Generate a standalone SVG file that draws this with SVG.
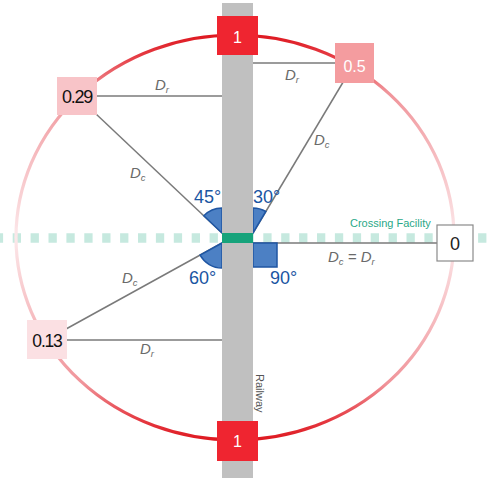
<svg xmlns="http://www.w3.org/2000/svg" width="491" height="481" viewBox="0 0 491 481">
<defs>
<linearGradient id="ring" gradientUnits="userSpaceOnUse" x1="0" y1="35" x2="0" y2="440">
<stop offset="0" stop-color="#de1820"/>
<stop offset="0.05" stop-color="#e53a42"/>
<stop offset="0.14" stop-color="#f0949a"/>
<stop offset="0.3" stop-color="#f6bcc0"/>
<stop offset="0.5" stop-color="#fce8ea"/>
<stop offset="0.7" stop-color="#f6bcc0"/>
<stop offset="0.86" stop-color="#f0949a"/>
<stop offset="0.95" stop-color="#e53a42"/>
<stop offset="1" stop-color="#de1820"/>
</linearGradient>
</defs>
<style>
.ln{stroke:#7a7a7a;stroke-width:1.5;fill:none}
.wedge{fill:#4c80c4;stroke:#1f56a3;stroke-width:1.5}
.ang{font-family:"Liberation Sans",Arial,sans-serif;font-size:18px;fill:#1a55a2}
.d{font-family:"Liberation Sans",Arial,sans-serif;font-style:italic;font-size:15px;fill:#6a6a6a}
.sub{font-size:9.5px}
.lbl{font-family:"Liberation Sans",Arial,sans-serif;text-anchor:middle}
</style>
<rect width="491" height="481" fill="#ffffff"/>
<!-- crossing facility dashed line -->
<line x1="-5.2" y1="238" x2="491" y2="238" stroke="#c6e9df" stroke-width="9.5" stroke-dasharray="8.3 9.6"/>
<!-- ring -->
<ellipse cx="235" cy="237.5" rx="219" ry="202.5" fill="none" stroke="url(#ring)" stroke-width="3.2"/>
<g id="connectors">
<line class="ln" x1="77" y1="96" x2="222" y2="96"/>
<line class="ln" x1="77" y1="96" x2="222" y2="233"/>
<line class="ln" x1="253" y1="63" x2="354.5" y2="63"/>
<line class="ln" x1="354.5" y1="63" x2="253" y2="233"/>
<line class="ln" x1="47" y1="339.5" x2="222" y2="243"/>
<line class="ln" x1="47" y1="340" x2="222" y2="340"/>
<line class="ln" x1="253" y1="243" x2="437" y2="243"/>
</g>
<g id="angles">
<path class="wedge" d="M222,233 L203.8,215.8 A25,25 0 0 1 222,208 Z"/>
<path class="wedge" d="M253,233 L253,208 A25,25 0 0 1 265.8,211.5 Z"/>
<path class="wedge" d="M222,243 L200.1,255.1 A25,25 0 0 0 222,268 Z"/>
<rect class="wedge" x="253" y="243" width="24" height="24"/>
<text class="ang" x="194" y="203">45°</text>
<text class="ang" x="253" y="203">30°</text>
<text class="ang" x="189" y="284">60°</text>
<text class="ang" x="270" y="284">90°</text>
</g>
<g id="railway">
<rect x="222" y="3" width="31" height="475" fill="#c0c0c0"/>
<text x="256" y="374" transform="rotate(90 256 374)" font-family="'Liberation Sans',Arial,sans-serif" font-size="11" fill="#555">Railway</text>
</g>
<g id="crossing">
<rect x="222" y="233" width="31" height="10" fill="#16a37b"/>
<text x="350" y="227" font-family="'Liberation Sans',Arial,sans-serif" font-size="11" fill="#2aa887">Crossing Facility</text>
</g>
<g id="labels">
<text class="d" x="155" y="90">D<tspan class="sub" dy="3">r</tspan></text>
<text class="d" x="130" y="178">D<tspan class="sub" dy="3">c</tspan></text>
<text class="d" x="285" y="80">D<tspan class="sub" dy="3">r</tspan></text>
<text class="d" x="314" y="145">D<tspan class="sub" dy="3">c</tspan></text>
<text class="d" x="122" y="283">D<tspan class="sub" dy="3">c</tspan></text>
<text class="d" x="140" y="354">D<tspan class="sub" dy="3">r</tspan></text>
<text class="d" x="328" y="262">D<tspan class="sub" dy="3">c</tspan><tspan dy="-3"> = D</tspan><tspan class="sub" dy="3">r</tspan></text>
</g>
<g id="node-top">
<rect x="217" y="16" width="41" height="39" fill="#ef2530"/>
<text class="lbl" x="237.5" y="42.5" font-size="16" fill="#fff">1</text>
</g>
<g id="node-bottom">
<rect x="217" y="421" width="41" height="40" fill="#ef2530"/>
<text class="lbl" x="237.5" y="447" font-size="16" fill="#fff">1</text>
</g>
<g id="node-05">
<rect x="335" y="43" width="39" height="40" fill="#f49c9f"/>
<text class="lbl" x="354.5" y="71.5" font-size="16" fill="#fff">0.5</text>
</g>
<g id="node-029">
<rect x="57" y="77" width="40" height="38" fill="#f8c4c8"/>
<text class="lbl" x="77" y="103" font-size="18" letter-spacing="-1.3" fill="#111">0.29</text>
</g>
<g id="node-013">
<rect x="27" y="320" width="40" height="39" fill="#fbe0e3"/>
<text class="lbl" x="47" y="346.5" font-size="17.5" letter-spacing="-1.2" fill="#111">0.13</text>
</g>
<g id="node-0">
<rect x="437" y="225" width="36" height="36" fill="#fff" stroke="#8a8a8a" stroke-width="1.2"/>
<text class="lbl" x="455" y="250" font-size="18" fill="#222">0</text>
</g>
</svg>
